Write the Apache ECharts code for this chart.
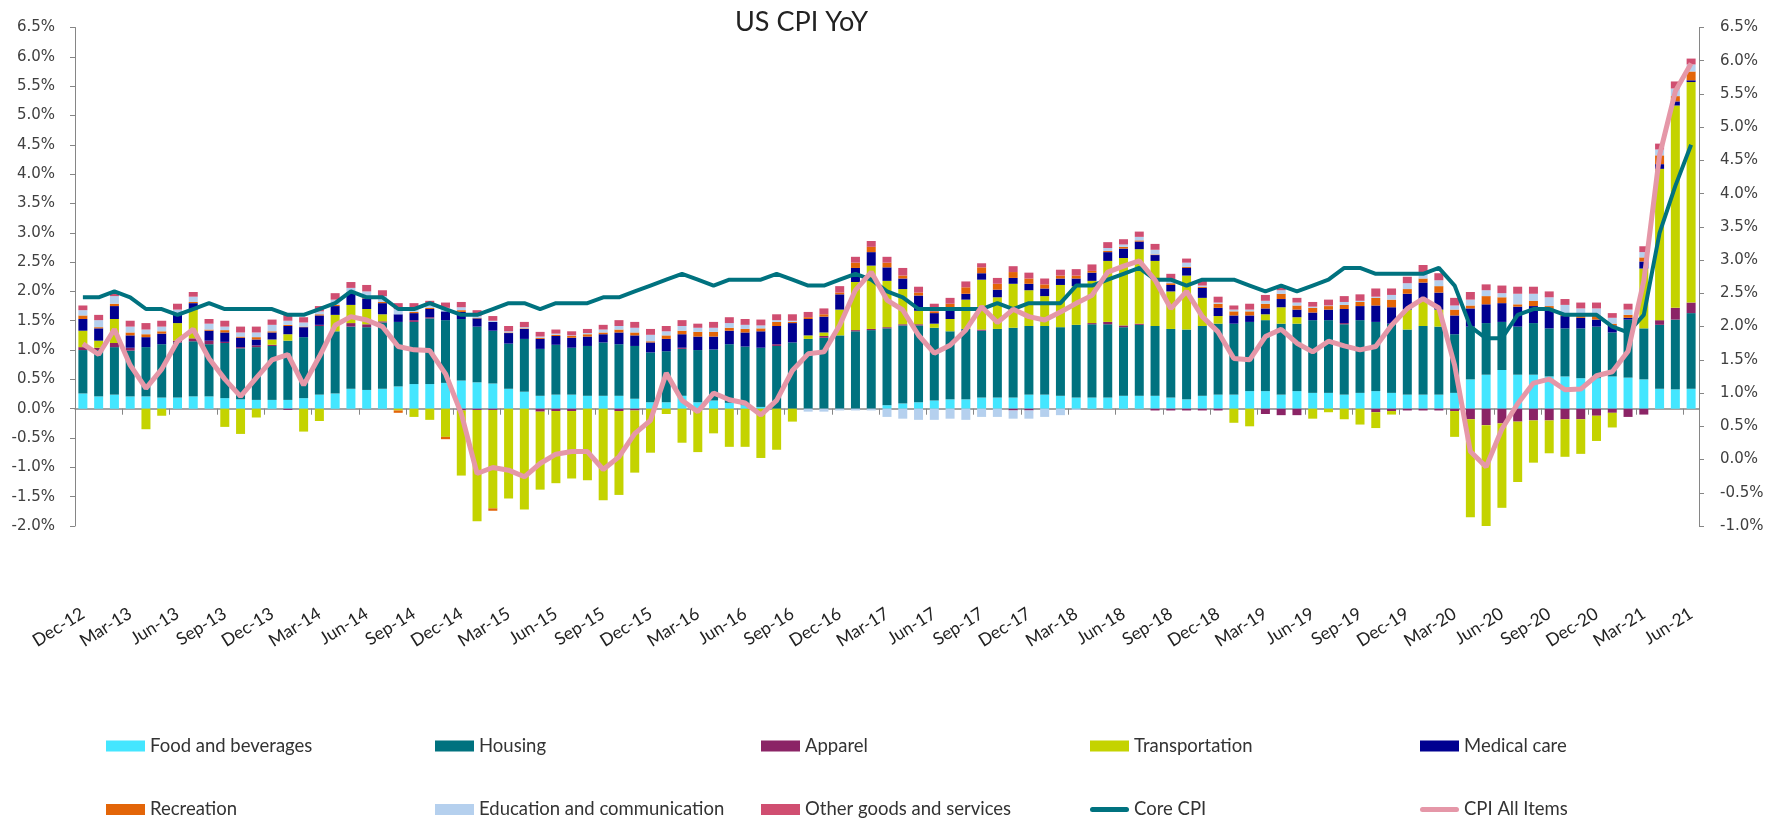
<!DOCTYPE html>
<html>
<head>
<meta charset="utf-8">
<script src="https://cdn.jsdelivr.net/npm/echarts@6/dist/echarts.min.js"></script>
<style>
html,body{margin:0;padding:0;background:#fff;}
#chart{width:1782px;height:819px;}
</style>
</head>
<body>
<div id="chart"></div>
<script>
// Categories (monthly, Dec-12 .. Jun-21)
const months = [
 'Dec-12',
 'Jan-13','Feb-13','Mar-13','Apr-13','May-13','Jun-13','Jul-13','Aug-13','Sep-13','Oct-13','Nov-13','Dec-13',
 'Jan-14','Feb-14','Mar-14','Apr-14','May-14','Jun-14','Jul-14','Aug-14','Sep-14','Oct-14','Nov-14','Dec-14',
 'Jan-15','Feb-15','Mar-15','Apr-15','May-15','Jun-15','Jul-15','Aug-15','Sep-15','Oct-15','Nov-15','Dec-15',
 'Jan-16','Feb-16','Mar-16','Apr-16','May-16','Jun-16','Jul-16','Aug-16','Sep-16','Oct-16','Nov-16','Dec-16',
 'Jan-17','Feb-17','Mar-17','Apr-17','May-17','Jun-17','Jul-17','Aug-17','Sep-17','Oct-17','Nov-17','Dec-17',
 'Jan-18','Feb-18','Mar-18','Apr-18','May-18','Jun-18','Jul-18','Aug-18','Sep-18','Oct-18','Nov-18','Dec-18',
 'Jan-19','Feb-19','Mar-19','Apr-19','May-19','Jun-19','Jul-19','Aug-19','Sep-19','Oct-19','Nov-19','Dec-19',
 'Jan-20','Feb-20','Mar-20','Apr-20','May-20','Jun-20','Jul-20','Aug-20','Sep-20','Oct-20','Nov-20','Dec-20',
 'Jan-21','Feb-21','Mar-21','Apr-21','May-21','Jun-21'
];

// Contributions (percentage points)
const food = [
 .26,
 .21,.24,.21,.21,.19,.19,.21,.21,.18,.16,.15,.15,
 .15,.18,.24,.26,.34,.32,.34,.38,.42,.42,.44,.48,
 .45,.43,.34,.29,.22,.24,.24,.22,.22,.22,.17,.11,
 .11,.22,.11,.14,.10,.06,.03,0,0,0,0,0,
 0,0,.06,.09,.11,.14,.16,.16,.19,.19,.19,.24,
 .24,.22,.19,.19,.19,.22,.22,.22,.19,.16,.22,.24,
 .24,.30,.30,.24,.30,.27,.27,.24,.27,.30,.27,.24,
 .24,.24,.27,.50,.58,.66,.58,.58,.55,.55,.52,.52,
 .55,.53,.50,.34,.33,.34
];
const housing = [
 .74,
 .79,.81,.78,.84,.91,.94,.94,.89,.94,.87,.90,.92,
 1.01,1.04,1.17,1.06,1.06,1.07,1.13,1.10,1.06,1.12,1.07,1.05,
 .95,.90,.77,.90,.80,.85,.80,.85,.91,.88,.90,.85,
 .87,.80,.89,.87,1.00,1.00,1.01,1.07,1.13,1.19,1.21,1.25,
 1.32,1.34,1.31,1.33,1.31,1.24,1.16,1.20,1.14,1.17,1.19,1.17,
 1.17,1.17,1.24,1.25,1.25,1.17,1.21,1.19,1.17,1.19,1.19,1.21,
 1.21,1.18,1.21,1.21,1.15,1.24,1.24,1.20,1.24,1.18,1.18,1.11,
 1.17,1.16,1.00,.90,.88,.82,.82,.88,.82,.82,.85,.88,
 .75,.99,.87,1.09,1.19,1.29
];
const apparel = [
 .05,
 .04,.07,.05,0,0,.03,.05,.06,.02,.02,.03,.02,
 -.02,0,.02,0,.06,.05,.02,0,.03,.02,0,-.03,
 -.02,-.02,0,0,-.05,-.04,-.04,0,0,-.04,-.03,0,
 0,.02,0,0,0,0,0,.03,0,0,.03,0,
 .02,.02,.02,.02,.02,0,0,0,.02,0,-.03,-.03,
 0,0,0,.02,.04,.03,.02,-.03,-.03,-.03,-.03,-.03,
 0,0,-.09,-.11,-.11,0,0,.02,0,-.06,-.04,-.03,
 -.03,-.03,-.04,-.18,-.28,-.25,-.22,-.20,-.20,-.18,-.18,-.12,
 -.07,-.14,-.10,.08,.20,.18
];
const transportation = [
 .28,
 .12,.41,0,-.35,-.12,.30,.49,0,-.31,-.43,-.15,.09,
 .11,-.39,-.21,.28,.31,.26,.12,-.03,-.14,-.19,-.48,-1.11,
 -1.90,-1.68,-1.53,-1.72,-1.33,-1.23,-1.15,-1.22,-1.56,-1.43,-1.06,-.75,
 -.09,-.58,-.74,-.42,-.65,-.65,-.84,-.70,-.22,.06,.06,.44,
 .82,1.08,.79,.60,.23,.07,.21,.50,.85,.54,.75,.61,
 .51,.72,.66,.72,1.04,1.15,1.27,1.11,.64,.92,.48,.13,
 -.24,-.30,.10,.28,.11,-.17,-.06,-.18,-.27,-.27,-.06,.34,
 .46,.29,-.44,-1.67,-1.72,-1.44,-1.03,-.72,-.56,-.64,-.59,-.43,
 -.25,0,1.02,2.58,3.45,3.76
];
const medical = [
 .20,
 .21,.22,.21,.17,.18,.14,.11,.17,.16,.16,.10,.12,
 .14,.17,.16,.15,.19,.18,.19,.13,.12,.14,.15,.12,
 .14,.15,.18,.17,.17,.15,.17,.16,.14,.20,.18,.17,
 .21,.23,.23,.22,.23,.24,.28,.31,.33,.28,.27,.26,
 .24,.23,.23,.18,.26,.18,.16,.10,.11,.13,.10,.11,
 .13,.11,.13,.14,.15,.16,.13,.10,.11,.13,.17,.14,
 .14,.11,.10,.14,.13,.13,.18,.24,.24,.28,.28,.27,
 .28,.29,.32,.31,.32,.32,.34,.29,.32,.21,.18,.12,
 .12,.03,.12,.08,.07,.03
];
const recreation = [
 .06,
 .02,.04,.05,.05,.04,.03,.02,.02,.04,.02,.04,.02,
 .02,.01,.02,.02,.03,.02,.02,-.04,.02,.02,-.04,.03,
 .01,-.04,.01,.01,.02,.02,.03,.04,.03,.05,.05,.02,
 .06,.06,.08,.08,.05,.06,.05,.07,.02,.03,.04,.03,
 .09,.09,.08,.05,.05,.03,.10,.11,.10,.10,.10,.09,
 .07,.05,.05,.03,.02,.03,.02,.01,.03,.02,.02,.07,
 .07,.07,.08,.09,.07,.08,.06,.07,.07,.13,.13,.08,
 .07,.11,.10,.05,.14,.10,.04,.09,.06,.03,.04,.07,
 .03,.05,.07,.15,.09,.15
];
const education = [
 .09,
 .12,.13,.10,.08,.08,.06,.09,.10,.06,.07,.08,.11,
 .07,.07,.05,.09,.07,.10,.10,.09,.06,.05,.06,.05,
 .03,.02,.02,.02,.02,.02,.01,.02,.05,.06,.08,.11,
 .07,.08,.07,.07,.08,.07,.05,.03,.02,-.05,-.05,-.03,
 -.03,-.03,-.14,-.17,-.19,-.19,-.17,-.19,-.14,-.14,-.14,-.14,
 -.14,-.11,-.02,0,.05,.04,.06,.08,.06,.07,.02,.02,
 .03,.03,.05,.06,.05,.02,.01,.05,.02,.02,.08,.10,
 .10,.10,.07,.10,.10,.07,.18,.12,.15,.16,.12,.12,
 .10,.09,.09,.10,.13,.12
];
const otherGoods = [
 .08,
 .09,.07,.10,.11,.10,.10,.08,.08,.10,.10,.10,.09,
 .10,.09,.09,.11,.10,.11,.10,.10,.09,.07,.09,.09,
 .10,.08,.09,.09,.08,.07,.07,.07,.08,.10,.10,.10,
 .09,.10,.07,.10,.10,.10,.10,.10,.11,.09,.10,.11,
 .10,.10,.10,.13,.10,.13,.10,.10,.07,.10,.10,.10,
 .10,.10,.11,.11,.10,.09,.09,.10,.10,.07,.08,.10,
 .07,.10,.10,.08,.08,.08,.10,.10,.11,.14,.11,.11,
 .13,.12,.13,.13,.10,.13,.12,.12,.10,.10,.10,.10,
 .08,.10,.10,.10,.12,.10
];
// Lines (% YoY)
const coreCPI = [
 1.9,
 1.9,2.0,1.9,1.7,1.7,1.6,1.7,1.8,1.7,1.7,1.7,1.7,
 1.6,1.6,1.7,1.8,2.0,1.9,1.9,1.7,1.7,1.8,1.7,1.6,
 1.6,1.7,1.8,1.8,1.7,1.8,1.8,1.8,1.9,1.9,2.0,2.1,
 2.2,2.3,2.2,2.1,2.2,2.2,2.2,2.3,2.2,2.1,2.1,2.2,
 2.3,2.2,2.0,1.9,1.7,1.7,1.7,1.7,1.7,1.8,1.7,1.8,
 1.8,1.8,2.1,2.1,2.2,2.3,2.4,2.2,2.2,2.1,2.2,2.2,
 2.2,2.1,2.0,2.1,2.0,2.1,2.2,2.4,2.4,2.3,2.3,2.3,
 2.3,2.4,2.1,1.4,1.2,1.2,1.6,1.7,1.7,1.6,1.6,1.6,
 1.4,1.3,1.6,3.0,3.8,4.5
];
const cpiAll = [
 1.74,
 1.58,1.96,1.42,1.07,1.36,1.78,1.96,1.52,1.21,0.95,1.23,1.50,
 1.58,1.12,1.55,2.02,2.15,2.10,2.00,1.70,1.65,1.64,1.29,0.69,
 -0.21,-0.12,-0.16,-0.26,-0.06,0.08,0.12,0.12,-0.15,0.04,0.39,0.59,
 1.30,0.89,0.72,1.00,0.90,0.85,0.67,0.89,1.34,1.59,1.62,2.02,
 2.55,2.82,2.40,2.25,1.87,1.60,1.72,1.95,2.30,2.06,2.26,2.15,
 2.10,2.22,2.35,2.47,2.82,2.91,2.99,2.70,2.27,2.53,2.15,1.92,
 1.52,1.50,1.85,1.96,1.75,1.62,1.78,1.71,1.65,1.70,2.02,2.27,
 2.42,2.28,1.42,0.12,-0.11,0.46,0.84,1.15,1.21,1.05,1.06,1.26,
 1.32,1.63,2.69,4.58,5.54,5.96
];

const barNames = ['Food and beverages','Housing','Apparel','Transportation','Medical care',
                  'Recreation','Education and communication','Other goods and services'];
const barData = [food, housing, apparel, transportation, medical, recreation, education, otherGoods];
const barColors = ['#44E6FF','#00727F','#8B2466','#C4D300','#000090','#E36508','#B5D0EE','#D04E71'];
const coreColor = '#00727F';
const cpiColor = '#E597A8';

const chart = echarts.init(document.getElementById('chart'), null, {renderer:'canvas'});

const series = barNames.map((n, k) => ({
  name: n, type: 'bar', stack: 'cpi', xAxisIndex: 0, yAxisIndex: 0,
  data: barData[k], barWidth: 9, color: barColors[k],
  itemStyle: {color: barColors[k]}, emphasis: {disabled: true}
}));
series.push({
  name: 'Core CPI', type: 'line', xAxisIndex: 0, yAxisIndex: 0, data: coreCPI,
  symbol: 'none', color: coreColor, lineStyle: {color: coreColor, width: 4}, z: 5
});
series.push({
  name: 'CPI All Items', type: 'line', xAxisIndex: 0, yAxisIndex: 1, data: cpiAll,
  symbol: 'none', color: cpiColor, lineStyle: {color: cpiColor, width: 5}, z: 6
});

const legendCols = [106, 435, 761, 1090, 1420];
const legendRows = [736.5, 800];
const legendOrder = barNames.concat(['Core CPI','CPI All Items']);
const lineIcon = 'path://M2.5,0 H36.5 A2.5,2.5 0 0 1 36.5,5 H2.5 A2.5,2.5 0 0 1 2.5,0 Z';
const legends = legendOrder.map((n, k) => {
  const isLine = k >= 8;
  return {
    data: [n], left: legendCols[k % 5], top: legendRows[Math.floor(k / 5)],
    padding: 0, itemWidth: 39, itemHeight: isLine ? 5 : 11,
    icon: isLine ? lineIcon : 'rect', selectedMode: false,
    textStyle: {fontFamily: 'Lato', fontSize: 18.5, color: '#333'}
  };
});

const axisGray = '#868686';
const pctFmt = v => v.toFixed(1) + '%';

chart.setOption({
  animation: false,
  backgroundColor: '#fff',
  title: {
    text: 'US CPI YoY', left: 730, top: 4,
    textStyle: {fontFamily: 'Lato', fontSize: 27, fontWeight: 'normal', color: '#222'}
  },
  legend: legends,
  grid: {left: 75, right: 83, top: 27.5, bottom: 293, containLabel: false},
  xAxis: [
    {
      type: 'category', data: months, position: 'bottom', boundaryGap: true,
      axisLine: {onZero: true, lineStyle: {color: axisGray, width: 1.5}},
      axisTick: {show: true, interval: 2, length: 6, lineStyle: {color: axisGray}},
      axisLabel: {show: false}, splitLine: {show: false}
    },
    {
      type: 'category', data: months, position: 'bottom', boundaryGap: true,
      axisLine: {show: false, onZero: false}, axisTick: {show: false},
      axisLabel: {show: true, interval: 2, rotate: 32, margin: 86,
        fontFamily: 'Lato', fontSize: 17.5, color: '#222'},
      splitLine: {show: false}
    }
  ],
  yAxis: [
    {
      type: 'value', min: -2, max: 6.5, interval: 0.5, position: 'left',
      axisLine: {show: true, lineStyle: {color: axisGray}},
      axisTick: {show: true, length: 5, lineStyle: {color: axisGray}},
      axisLabel: {formatter: pctFmt, margin: 20, fontFamily: 'DejaVu Sans', fontSize: 15, color: '#404040'},
      splitLine: {show: false}
    },
    {
      type: 'value', min: -1, max: 6.5, interval: 0.5, position: 'right',
      axisLine: {show: true, lineStyle: {color: axisGray}},
      axisTick: {show: true, length: 5, lineStyle: {color: axisGray}},
      axisLabel: {formatter: pctFmt, margin: 21, fontFamily: 'DejaVu Sans', fontSize: 15, color: '#404040'},
      splitLine: {show: false}
    }
  ],
  series: series
});
</script>
</body>
</html>
